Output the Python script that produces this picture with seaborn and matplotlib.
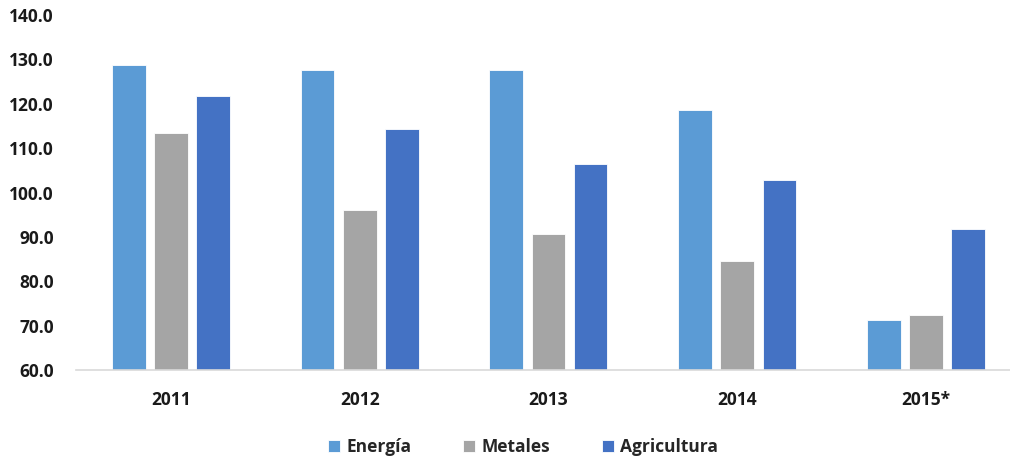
import matplotlib
matplotlib.use("Agg")
import matplotlib.pyplot as plt
import seaborn as sns
import pandas as pd

years = ["2011", "2012", "2013", "2014", "2015*"]
energia = [128.8, 127.6, 127.6, 118.5, 71.3]
metales = [113.5, 96.1, 90.7, 84.6, 72.3]
agricultura = [121.8, 114.4, 106.4, 102.9, 91.8]
series_names = ["Energía", "Metales", "Agricultura"]
colors = ["#5B9BD5", "#A5A5A5", "#4472C4"]

rows = []
for name, vals in zip(series_names, [energia, metales, agricultura]):
    for y, v in zip(years, vals):
        rows.append({"Año": y, "Serie": name, "Valor": v})
df = pd.DataFrame(rows)

sns.set_style("white")
plt.rcParams['font.family'] = ['Open Sans', 'DejaVu Sans']

fig = plt.figure(figsize=(10.10, 4.61), dpi=100)
ax = fig.add_axes([76 / 1010, 91 / 461, 934 / 1010, 355 / 461])

sns.barplot(data=df, x="Año", y="Valor", hue="Serie", hue_order=series_names,
            palette=colors, width=0.67, gap=0.2, ax=ax, saturation=1,
            edgecolor="white", linewidth=0.6)

ax.set_xlim(-0.503, 4.445)
ax.set_ylim(60, 140)
ax.set_yticks(range(60, 141, 10))
ax.set_yticklabels([f"{v:.1f}" for v in range(60, 141, 10)], fontsize=12.5, fontweight="bold", color="#1a1a1a")
ax.set_xticks(range(len(years)))
ax.set_xticklabels(years, fontsize=12.5, fontweight="bold", color="#1a1a1a")
ax.set_xlabel("")
ax.set_ylabel("")
ax.tick_params(axis="x", length=0, pad=15)
ax.tick_params(axis="y", length=0, pad=16)
for s in ["top", "right", "left"]:
    ax.spines[s].set_visible(False)
ax.spines["bottom"].set_color("#D9D9D9")
ax.spines["bottom"].set_linewidth(1.2)

handles, labels = ax.get_legend_handles_labels()
ax.legend_.remove()
fig.legend(handles, labels, loc="center", bbox_to_anchor=(523 / 1010, 1 - 447 / 461), ncol=3,
           frameon=False, prop={"size": 12.5, "weight": "bold"}, handlelength=0.7,
           handleheight=0.7, handletextpad=0.35, columnspacing=3.0)

fig.savefig("out.png", dpi=100)
